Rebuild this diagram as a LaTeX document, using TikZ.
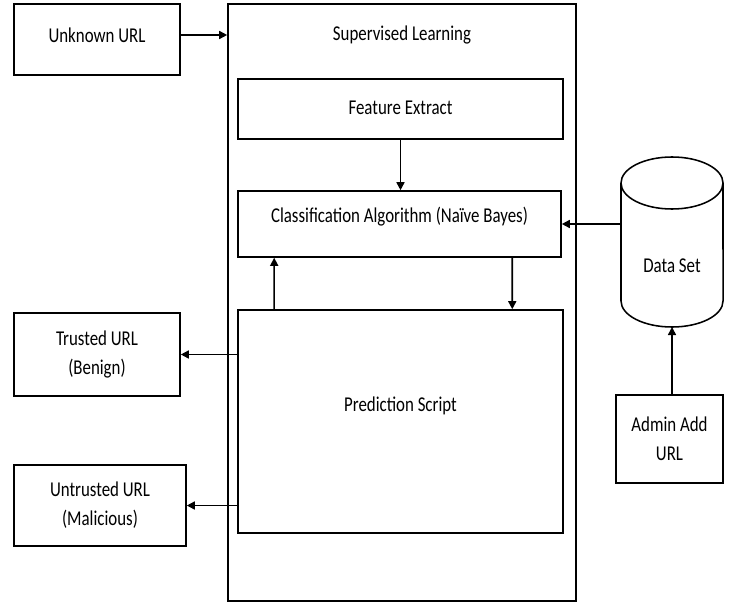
\documentclass[tikz,border=0pt]{standalone}
\usepackage{fontspec}
\setmainfont{Carlito}[FakeStretch=0.8]
\usepackage{tikz}
\usetikzlibrary{arrows.meta,shapes,positioning,calc}
\tikzstyle{box} = [rectangle, draw, line width=1.1pt, inner sep=0pt]
\tikzstyle{txt} = [font=\fontsize{15pt}{20.5pt}\selectfont, align=center, inner sep=0pt]
\tikzstyle{arrow} = [line width=1.1pt,-{Triangle[length=2mm,width=2mm]}]

\begin{document}
\begin{tikzpicture}[x=0.025cm, y=-0.025cm]
    \useasboundingbox (0,0) rectangle (730,604);

    % Input
    \node[box, minimum width=4.15cm, minimum height=1.775cm] (unknown) at (97,39.5) {};
    \node[txt] (unknowntxt) at (97,35) {Unknown URL};

    % Supervised learning block
    \node[box, minimum width=8.7cm, minimum height=14.925cm] (learn) at (402,302.5) {};
    \node[txt] (learntxt) at (402,35) {Supervised Learning};

    \node[box, minimum width=8.125cm, minimum height=1.5cm] (feature) at (400.5,109) {};
    \node[txt] (featuretxt) at (400.5,108) {Feature Extract};

    \node[box, minimum width=8.075cm, minimum height=1.65cm] (classify) at (399.5,224) {};
    \node[txt] (classifytxt) at (399.5,217) {Classification Algorithm (Naïve Bayes)};

    \node[box, minimum width=8.125cm, minimum height=5.575cm] (predict) at (400.5,421.5) {};
    \node[txt] (predicttxt) at (400.5,406) {Prediction Script};

    % Outputs
    \node[box, minimum width=4.15cm, minimum height=2.075cm] (trusted) at (97,354.5) {};
    \node[txt] (trustedtxt) at (97,354.5) {Trusted URL\\(Benign)};

    \node[box, minimum width=4.3cm, minimum height=2.025cm] (untrusted) at (100,505.5) {};
    \node[txt] (untrustedtxt) at (100,505.5) {Untrusted URL\\(Malicious)};

    % Data set (cylinder)
    \draw[line width=1.1pt] (621,183) -- (621,301) arc[start angle=180, end angle=360, x radius=1.275cm, y radius=0.65cm] -- (723,183);
    \draw[line width=1.1pt] (672,183) ellipse [x radius=1.275cm, y radius=0.65cm];
    \node[txt] (dataset) at (672,266) {Data Set};
    \coordinate (dsleft) at (621,223);
    \coordinate (dsbottom) at (672,327);

    \node[box, minimum width=2.675cm, minimum height=2.2cm] (admin) at (669.5,439) {};
    \node[txt] (admintxt) at (669.5,439) {Admin Add\\URL};

    % Arrows
    \draw[arrow] (unknowntxt -| unknown.east) -- (unknowntxt -| learn.west);
    \draw[arrow] (feature.south) -- (feature.south |- classify.north);
    \draw[arrow] ([xshift=0.925cm]predict.north west) -- ([xshift=0.925cm]classify.south west);
    \draw[arrow] ([xshift=6.875cm]classify.south west) -- ([xshift=6.875cm]predict.north west);
    \draw[arrow] (trusted.east -| predict.west) -- (trusted.east);
    \draw[arrow] (untrusted.east -| predict.west) -- (untrusted.east);
    \draw[arrow] (classify.east -| dsleft) -- (classify.east);
    \draw[arrow] (admin.north -| dsbottom) -- (dsbottom);
\end{tikzpicture}
\end{document}
